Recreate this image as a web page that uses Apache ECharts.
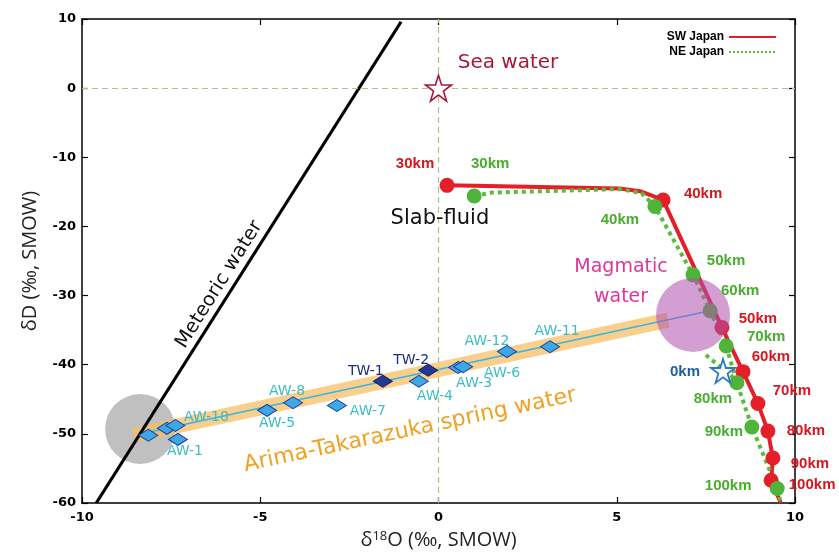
<!DOCTYPE html>
<html><head><meta charset="utf-8">
<script src="https://cdn.jsdelivr.net/npm/echarts@6/dist/echarts.min.js"></script>
<style>html,body{margin:0;padding:0;background:#fff}#c{width:839px;height:555px}</style>
</head><body><div id="c"></div>
<script>
// ---------- data ----------
const depthLabels = ['30km','40km','50km','60km','70km','80km','90km','100km'];
const swX = [0.24, 6.30, 7.95, 8.54, 8.96, 9.24, 9.38, 9.33];
const swY = [-14.06, -16.17, -34.6, -41.0, -45.6, -49.6, -53.5, -56.7];
const swPathX = [0.24, 5.09, 5.65, 6.30, 7.95, 8.54, 8.96, 9.24, 9.38, 9.33, 9.6];
const swPathY = [-14.06, -14.5, -14.9, -16.17, -34.6, -41.0, -45.6, -49.6, -53.5, -56.7, -60];
const neX = [1.0, 6.07, 7.14, 7.62, 8.07, 8.37, 8.79, 9.5];
const neY = [-15.6, -17.1, -27.0, -32.2, -37.3, -42.6, -49.0, -57.9];
const nePathX = [1.0, 1.5, 5.1, 5.7, 6.07, 7.14, 7.62, 8.07, 8.37, 8.79, 9.5, 9.6];
const nePathY = [-15.6, -15.1, -14.6, -15.2, -17.1, -27.0, -32.2, -37.3, -42.6, -49.0, -57.9, -60];
const neStubX = [7.5, 8.3];
const neStubY = [-38.6, -42.0];
const meteoricX = [-9.6, -1.05];
const meteoricY = [-60, 9.6];
const trendX = [-8.43, 7.48];
const trendY = [-50.1, -32.35];
const bandX = [-8.55, 6.44];
const bandY = [-50.2, -33.55];
const magmaticCenter = [7.14, -32.8];
const meteoricCenter = [-8.37, -49.3];
const seaWater = [0, 0];
const zeroKm = [7.98, -40.9];
const awNames = ['AW-1','AW-2','AW-9','AW-10','AW-5','AW-8','AW-7','AW-4','AW-3','AW-6','AW-12','AW-11'];
const awShown = ['AW-1','','','AW-10','AW-5','AW-8','AW-7','AW-4','AW-3','AW-6','AW-12','AW-11'];
const awX = [-7.31, -8.14, -7.62, -7.38, -4.81, -4.08, -2.85, -0.55, 0.55, 0.69, 1.92, 3.13];
const awY = [-50.8, -50.2, -49.2, -48.8, -46.6, -45.5, -45.9, -42.4, -40.4, -40.3, -38.1, -37.4];
const twNames = ['TW-1','TW-2'];
const twX = [-1.56, -0.29];
const twY = [-42.4, -40.8];
const annoTexts = ['Sea water','Slab-fluid','Magmatic\nwater','Meteoric water','Arima-Takarazuka spring water'];
const annoX = [1.95, 0.04, 5.12, -6.15, -0.8];
const annoY = [3.66, -18.8, -28.0, -28.4, -49.5];
const xMin = -10, xMax = 10, xStep = 5;
const yMin = -60, yMax = 10, yStep = 10;

// ---------- styles ----------
const RED = '#e3202a', GREEN = '#5cbb3c';
const swLabelOff = [[-32,-21],[40,-6],[36,-9],[28,-15],[34,-13],[38,0],[37,6],[41,5]];
const neLabelOff = [[16,-32],[-35,13],[33,-14],[30,-20],[40,-9],[-24,16],[-28,5],[-49,-3]];
const awLabelOff = [[7,12],[0,0],[0,0],[31,-8],[10,13],[-6,-11],[31,6],[16,15],[16,16],[39,7],[-20,-10],[7,-15]];
const twLabelOff = [[-17,-10],[-17,-10]];
const annoStyle = [
  {color:'#a8183a', fontSize:20, rotate:0},
  {color:'#111', fontSize:21, rotate:0},
  {color:'#e0369c', fontSize:19, rotate:0, lineHeight:30},
  {color:'#111', fontSize:19.5, rotate:58},
  {color:'#f2a020', fontSize:22, rotate:12}
];
const ANNO_FONT = '"DejaVu Sans", sans-serif';
const STAR = 'path://M50,2 L61,36 L97,36 L68,57 L79,92 L50,71 L21,92 L32,57 L3,36 L39,36 Z';
const zip = (xs, ys) => xs.map((x, i) => [x, ys[i]]);

const axisCommon = {
  type:'value', splitLine:{show:false},
  axisLine:{show:true, onZero:false, lineStyle:{color:'#000', width:1.5}},
  axisTick:{show:true, inside:true, length:6, lineStyle:{color:'#000', width:1.2}},
};
const tickLabel = {color:'#000', fontWeight:'bold', fontSize:13, fontFamily:'"DejaVu Sans", sans-serif'};

const option = {
  animation:false,
  backgroundColor:'#fff',
  grid:{left:82, right:44, top:19, bottom:50},
  legend:{
    orient:'vertical', right:57, top:26, align:'right', itemWidth:47, itemHeight:10, itemGap:3,
    itemStyle:{opacity:0},
    textStyle:{color:'#000', fontWeight:'bold', fontSize:12, fontFamily:'"Liberation Sans", sans-serif'},
    data:['SW Japan','NE Japan']
  },
  xAxis:[
    Object.assign({}, axisCommon, {min:xMin, max:xMax, interval:xStep, position:'bottom',
      axisLabel:Object.assign({margin:8}, tickLabel),
      name:'{d|δ}{s|18}{d|O (‰, SMOW)}', nameLocation:'middle', nameGap:27,
      nameTextStyle:{rich:{d:{fontSize:20, color:'#222', fontFamily:'"Open Sans", sans-serif'},
        s:{fontSize:13, color:'#222', verticalAlign:'top', fontFamily:'"Open Sans", sans-serif'}}}}),
    Object.assign({}, axisCommon, {min:xMin, max:xMax, interval:xStep, position:'top', axisLabel:{show:false}})
  ],
  yAxis:[
    Object.assign({}, axisCommon, {min:yMin, max:yMax, interval:yStep, position:'left',
      axisLabel:Object.assign({margin:6}, tickLabel),
      name:'δD (‰, SMOW)', nameLocation:'middle', nameGap:42, nameRotate:90,
      nameTextStyle:{fontSize:20, color:'#222', fontFamily:'"Open Sans", sans-serif'}}),
    Object.assign({}, axisCommon, {min:yMin, max:yMax, interval:yStep, position:'right', axisLabel:{show:false}})
  ],
  series:[
    {type:'scatter', z:1, silent:true, symbol:'circle', symbolSize:70,
      itemStyle:{color:'rgba(150,150,150,0.6)', opacity:1}, data:[meteoricCenter]},
    {type:'line', z:2, silent:true, symbol:'none', data:zip(bandX, bandY),
      lineStyle:{color:'rgba(248,190,100,0.75)', width:15, cap:'butt'},
      markLine:{silent:true, symbol:['none','none'], label:{show:false},
        lineStyle:{type:[6,4], color:'#a9c58e', width:1.2},
        data:[{xAxis:0},{yAxis:0}]}},
    {type:'line', z:3, silent:true, symbol:'none', data:zip(trendX, trendY),
      lineStyle:{color:'#35b6e6', width:1.5}},
    {type:'line', z:3, silent:true, symbol:'none', data:zip(meteoricX, meteoricY),
      lineStyle:{color:'#000', width:3.2}},
    {name:'SW Japan', type:'line', z:4, silent:true, symbol:'none', data:zip(swPathX, swPathY),
      lineStyle:{color:RED, width:4}, itemStyle:{color:RED}},
    {name:'NE Japan', type:'line', z:5, silent:true, symbol:'none', data:zip(nePathX, nePathY),
      lineStyle:{color:GREEN, width:4, type:'dotted'}, itemStyle:{color:GREEN}},
    {type:'line', z:5, silent:true, symbol:'none', data:zip(neStubX, neStubY),
      lineStyle:{color:GREEN, width:4, type:'dotted'}},
    {type:'scatter', z:6, silent:true, symbol:'circle', symbolSize:15,
      itemStyle:{color:RED, opacity:1},
      data:swX.map((x,i)=>({value:[x, swY[i]], name:depthLabels[i],
        label:{show:true, position:'inside', offset:swLabelOff[i], formatter:depthLabels[i],
          color:'#d41820', fontWeight:'bold', fontSize:15, fontFamily:'"Liberation Sans", sans-serif'}}))},
    {type:'scatter', z:7, silent:true, symbol:'circle', symbolSize:15,
      itemStyle:{color:'#4fb43a', opacity:1},
      data:neX.map((x,i)=>({value:[x, neY[i]], name:depthLabels[i],
        label:{show:true, position:'inside', offset:neLabelOff[i], formatter:depthLabels[i],
          color:'#49ad2e', fontWeight:'bold', fontSize:15, fontFamily:'"Liberation Sans", sans-serif'}}))},
    {type:'scatter', z:8, silent:true, symbol:'circle', symbolSize:74,
      itemStyle:{color:'rgba(175,80,175,0.55)', opacity:1}, data:[magmaticCenter]},
    {type:'scatter', z:9, silent:true, symbol:STAR, symbolSize:26,
      itemStyle:{color:'#fff', borderColor:'#a8183a', borderWidth:1.6, opacity:1}, data:[seaWater]},
    {type:'scatter', z:9, silent:true, symbol:STAR, symbolSize:24,
      itemStyle:{color:'#fff', borderColor:'#2a78c8', borderWidth:1.8, opacity:1},
      label:{show:true, position:'inside', offset:[-38,1], formatter:'0km', color:'#1f5f9e',
        fontWeight:'bold', fontSize:15, fontFamily:'"Liberation Sans", sans-serif'},
      data:[zeroKm]},
    {type:'scatter', z:10, silent:true, symbol:'diamond', symbolSize:[19,12],
      itemStyle:{color:'#3ea8e6', borderColor:'#1d3a94', borderWidth:1, opacity:1},
      data:awX.map((x,i)=>({value:[x, awY[i]], name:awNames[i],
        label:{show:awShown[i] !== '', position:'inside', offset:awLabelOff[i], formatter:awShown[i],
          color:'#3cbcc6', fontSize:14, fontFamily:'"DejaVu Sans", sans-serif'}}))},
    {type:'scatter', z:10, silent:true, symbol:'diamond', symbolSize:[19,12],
      itemStyle:{color:'#22399a', borderColor:'#101d60', borderWidth:1, opacity:1},
      data:twX.map((x,i)=>({value:[x, twY[i]], name:twNames[i],
        label:{show:true, position:'inside', offset:twLabelOff[i], formatter:twNames[i],
          color:'#1c2a86', fontSize:14, fontFamily:'"DejaVu Sans", sans-serif'}}))},
    {type:'scatter', z:11, silent:true, symbol:'circle', symbolSize:0,
      itemStyle:{color:'rgba(0,0,0,0)', opacity:1},
      data:annoX.map((x,i)=>({value:[x, annoY[i]], name:annoTexts[i],
        label:Object.assign({show:true, position:'inside', formatter:annoTexts[i], fontFamily:ANNO_FONT},
          annoStyle[i])}))}
  ]
};
const chart = echarts.init(document.getElementById('c'), null, {renderer:'canvas'});
chart.setOption(option);
</script></body></html>
